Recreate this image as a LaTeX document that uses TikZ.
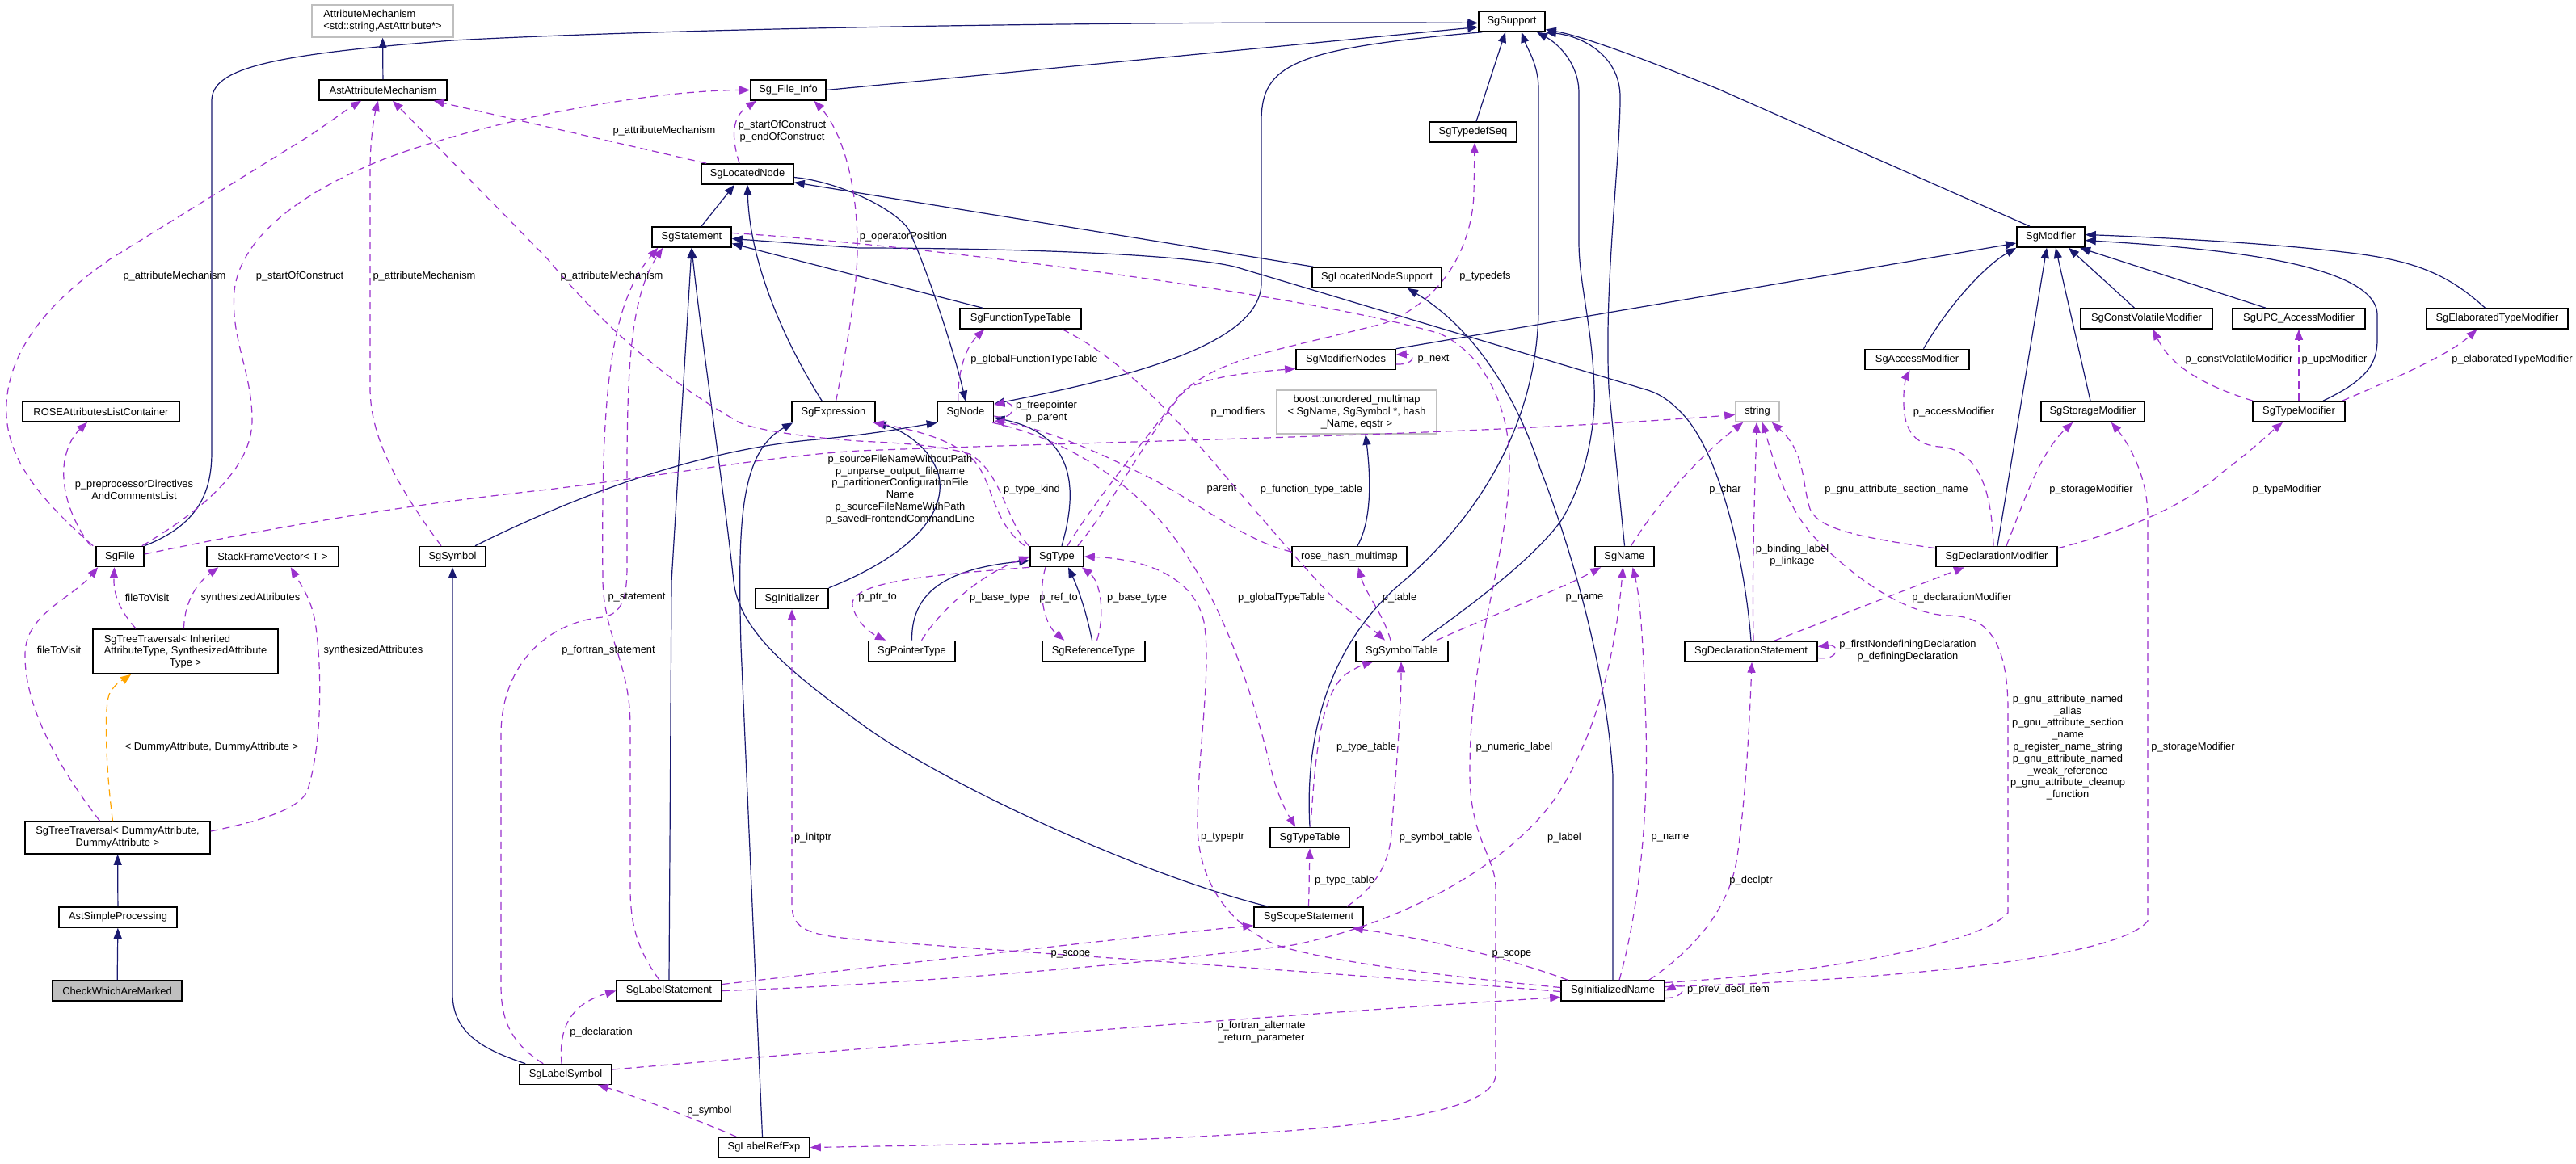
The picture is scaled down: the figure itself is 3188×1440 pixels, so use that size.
\documentclass[tikz,border=0pt]{standalone}
\usepackage{fontspec}
\setmainfont{Liberation Sans}
\usetikzlibrary{arrows.meta,calc}
\definecolor{inhc}{HTML}{191970}
\definecolor{usec}{HTML}{9A32CD}
\definecolor{tmplc}{HTML}{FFA500}
\definecolor{grayb}{HTML}{BFBFBF}
\begin{document}
\begin{tikzpicture}[x=0.5pt,y=-0.5pt,
  font=\fontsize{6.45}{7.4}\selectfont,
  cls/.style={draw=black,line width=0.8pt,fill=white,minimum height=12.5pt,inner sep=0pt,align=center,minimum width={#1*0.5pt}},
  gcls/.style={cls=#1,draw=grayb},
  lbl/.style={inner sep=0pt,align=center},
  inh/.style={draw=inhc,line width=0.6pt,-{Triangle[length=6.5pt,width=5pt]}},
  use/.style={draw=usec,line width=0.6pt,dash pattern=on 4.5pt off 3pt,-{Triangle[length=6.5pt,width=5pt]}},
  tmpl/.style={use,draw=tmplc}]
\fill[white] (0,0) rectangle (3188,1440);
\useasboundingbox (0,0) rectangle (3188,1440);
% ---------- nodes ----------
\node[gcls=175,minimum height=20pt,align=left] (attrmech) at (473.5,26) {AttributeMechanism\\<std::string,AstAttribute*>};
\node[cls=158] (astattr) at (474,111.5) {AstAttributeMechanism};
\node[cls=93] (fileinfo) at (975.5,111.5) {Sg\_File\_Info};
\node[cls=114] (located) at (925,215.5) {SgLocatedNode};
\node[cls=98] (statement) at (856,293.5) {SgStatement};
\node[cls=103] (expression) at (1031.5,510) {SgExpression};
\node[cls=194] (roseattr) at (125,509.5) {ROSEAttributesListContainer};
\node[cls=59] (sgfile) at (148.5,689) {SgFile};
\node[cls=163] (stackframe) at (337.5,689) {StackFrameVector< T >};
\node[cls=82] (symbol) at (560,689) {SgSymbol};
\node[cls=82] (support) at (1871,26.5) {SgSupport};
\node[cls=108] (typedefseq) at (1823,163.5) {SgTypedefSeq};
\node[cls=160] (lnsupport) at (1704,343.5) {SgLocatedNodeSupport};
\node[cls=150] (functt) at (1263,394.5) {SgFunctionTypeTable};
\node[cls=123] (modnodes) at (1665.5,445) {SgModifierNodes};
\node[cls=69] (sgnode) at (1195,510) {SgNode};
\node[gcls=198,minimum height=27pt] (boost) at (1679,510) {boost::unordered\_multimap\\< SgName, SgSymbol *, hash\\\_Name, eqstr >};
\node[cls=66] (sgtype) at (1308,689) {SgType};
\node[cls=142] (rosehash) at (1670,689) {rose\_hash\_multimap};
\node[cls=73] (sgname) at (2010.5,689) {SgName};
\node[cls=90] (initializer) at (980,741) {SgInitializer};
\node[cls=84] (modifier) at (2538,293.5) {SgModifier};
\node[cls=129] (accessmod) at (2372.5,445) {SgAccessModifier};
\node[cls=163] (cvmod) at (2656.5,394.5) {SgConstVolatileModifier};
\node[cls=164] (upcmod) at (2845,394.5) {SgUPC\_AccessModifier};
\node[cls=175] (elabmod) at (3090.5,394.5) {SgElaboratedTypeModifier};
\node[gcls=54] (string) at (2175,509.5) {string};
\node[cls=128] (storagemod) at (2590,509.5) {SgStorageModifier};
\node[cls=114] (typemod) at (2845,509.5) {SgTypeModifier};
\node[cls=150] (declmod) at (2471,689) {SgDeclarationModifier};
\node[cls=229,minimum height=27.5pt] (sgttinh) at (229.5,806.5) {\rlap{SgTreeTraversal< Inherited}\phantom{AttributeType, SynthesizedAttribute}\\AttributeType, SynthesizedAttribute\\Type >};
\node[cls=229,minimum height=20pt] (sgttdummy) at (145.5,1037) {SgTreeTraversal< DummyAttribute,\\DummyAttribute >};
\node[cls=146] (astsimple) at (146,1135.5) {AstSimpleProcessing};
\node[cls=160,fill=grayb] (checkwhich) at (145,1226.5) {CheckWhichAreMarked};
\node[cls=130] (labelstmt) at (828,1226.5) {SgLabelStatement};
\node[cls=114] (labelsym) at (700,1330) {SgLabelSymbol};
\node[cls=113] (labelref) at (945.5,1420.5) {SgLabelRefExp};
\node[cls=107] (ptrtype) at (1128.5,806) {SgPointerType};
\node[cls=127] (reftype) at (1353.5,806) {SgReferenceType};
\node[cls=114] (symtab) at (1735,806) {SgSymbolTable};
\node[cls=98] (typetable) at (1621,1037) {SgTypeTable};
\node[cls=135] (scopestmt) at (1619.5,1135.5) {SgScopeStatement};
\node[cls=128] (initname) at (1996,1226.5) {SgInitializedName};
\node[cls=164] (declstmt) at (2167,806.5) {SgDeclarationStatement};
% ---------- inheritance ----------
\draw[inh] (astattr) -- (attrmech);
\draw[inh] (sgfile.north east) .. controls (245,650) and (262,610) .. (262,560) -- (262,125) .. controls (262,85) and (330,68) .. (560,50) .. controls (900,32) and (1500,26) .. ($(support.west)+(0,2)$);
\draw[inh] (fileinfo.east) -- ($(support.west)+(0,7)$);
\draw[inh] ($(typedefseq.north)+(4,0)$) -- ($(support.south)+(-8,0)$);
\draw[inh] (typetable.north) .. controls (1614,900) and (1650,790) .. (1741,716) .. controls (1850,620) and (1904,500) .. (1904,380) -- (1904,110) .. controls (1904,80) and (1890,60) .. ($(support.south)+(12,0)$);
\draw[inh] ($(symtab.north)+(25,0)$) .. controls (1820,750) and (1900,690) .. (1933,643) .. controls (1965,590) and (1975,520) .. (1973,480) .. controls (1970,400) and (1954,350) .. (1954,300) -- (1954,115) .. controls (1954,80) and (1930,55) .. ($(support.south)+(31,0)$);
\draw[inh] (sgname.north) -- (1991,480) .. controls (1985,350) and (2005,200) .. (2005,120) .. controls (2005,70) and (1960,45) .. (support.south east);
\draw[inh] ($(modifier.north)+(-26,0)$) -- (2126,110) .. controls (2040,75) and (1960,45) .. ($(support.east)+(0,10)$);
\draw[inh] ($(support.south west)+(5,0)$) .. controls (1600,60) and (1561,80) .. (1561,150) -- (1561,350) .. controls (1561,430) and (1380,470) .. ($(sgnode.east)+(0,-10)$);
\draw[inh] ($(located.east)+(0,4)$) .. controls (1040,225) and (1110,260) .. (1125,285) .. controls (1150,340) and (1182,440) .. (sgnode.north);
\draw[inh] ($(symbol.north)+(28,0)$) .. controls (700,620) and (850,560) .. (1000,545) .. controls (1080,538) and (1130,528) .. (sgnode.south west);
\draw[inh] ($(sgtype.north)+(6,0)$) .. controls (1330,620) and (1340,540) .. ($(sgnode.east)+(0,7)$);
\draw[inh] ($(statement.north)+(12,0)$) -- ($(located.south)+(-16,0)$);
\draw[inh] ($(expression.north)+(-14,0)$) .. controls (975,430) and (928,330) .. (located.south);
\draw[inh] ($(lnsupport.north west)+(2,0)$) -- ($(located.south east)+(0,-3)$);
\draw[inh] ($(functt.north)+(-47,0)$) -- ($(statement.east)+(0,8)$);
\draw[inh] (declstmt.north) .. controls (2160,700) and (2130,560) .. (2080,510) .. controls (2062,492) and (2050,486) .. (2036,482) -- (1531,331) .. controls (1460,312) and (1200,307) .. (1063,307) -- ($(statement.east)+(0,2)$);
\draw[inh] ($(scopestmt.north west)+(18,0)$) .. controls (1400,1080) and (1150,960) .. (1063,894) .. controls (975,830) and (915,780) .. (908,720) .. controls (895,600) and (868,420) .. (statement.south);
\draw[inh] (labelstmt.north) -- (831,720) -- (statement.south);
\draw[inh] (initializer.north east) .. controls (1120,690) and (1172,640) .. (1162,590) .. controls (1152,550) and (1110,530) .. (expression.south east);
\draw[inh] ($(labelref.north)+(-2,0)$) -- (917,800) .. controls (913,650) and (915,560) .. ($(expression.south west)+(2,0)$);
\draw[inh] (initname.north) -- (1996,960) .. controls (1990,860) and (1960,720) .. (1906,580) .. controls (1880,500) and (1830,410) .. ($(lnsupport.south east)+(-43,0)$);
\draw[inh] (modnodes.north east) -- (modifier.190);
\draw[inh] ($(accessmod.north)+(8,0)$) .. controls (2410,380) and (2455,330) .. (modifier.south west);
\draw[inh] ($(cvmod.north)+(-15,0)$) -- ($(modifier.south)+(22,0)$);
\draw[inh] ($(upcmod.north)+(-41,0)$) -- ($(modifier.south)+(36,0)$);
\draw[inh] ($(elabmod.north)+(-15,0)$) .. controls (3030,340) and (2990,322) .. (2900,312) .. controls (2800,300) and (2650,293) .. ($(modifier.east)+(0,-3)$);
\draw[inh] ($(storagemod.north)+(-3,0)$) -- ($(modifier.south)+(6,0)$);
\draw[inh] ($(typemod.north)+(30,0)$) .. controls (2930,470) and (2942,450) .. (2942,420) -- (2942,390) .. controls (2942,320) and (2700,305) .. ($(modifier.east)+(0,4)$);
\draw[inh] ($(declmod.north)+(1,0)$) -- ($(modifier.south)+(-5,0)$);
\draw[inh] (ptrtype.north) .. controls (1128,740) and (1160,705) .. ($(sgtype.west)+(0,5)$);
\draw[inh] ($(reftype.north)+(-2,0)$) .. controls (1345,760) and (1335,730) .. ($(sgtype.south)+(14,0)$);
\draw[inh] ($(labelsym.north west)+(8,0)$) .. controls (600,1300) and (560,1280) .. (560,1230) -- (symbol.south);
\draw[inh] ($(rosehash.north)+(10,0)$) .. controls (1700,640) and (1695,580) .. ($(boost.south)+(11,0)$);
\draw[inh] (astsimple) -- (sgttdummy);
\draw[inh] (checkwhich) -- (astsimple);
% ---------- usage ----------
\draw[use] ($(sgfile.north west)+(-3,0)$) .. controls (40,610) and (5,560) .. (8,500) .. controls (12,420) and (80,360) .. (136,321) -- (380,170) .. controls (410,150) and (430,135) .. ($(astattr.south)+(-27,0)$);
\draw[use] ($(sgfile.north east)+(-3,0)$) .. controls (270,620) and (312,570) .. (312,520) .. controls (312,460) and (285,420) .. (290,360) .. controls (298,290) and (380,235) .. (475,197) .. controls (600,150) and (800,112) .. (fileinfo.west);
\draw[use] ($(symbol.north)+(-14,0)$) .. controls (490,600) and (458,540) .. (458,480) -- (458,210) .. controls (458,170) and (464,140) .. ($(astattr.south)+(-6,0)$);
\draw[use] ($(sgtype.north west)+(-1,0)$) .. controls (1245,645) and (1240,585) .. (1200,562) .. controls (1160,550) and (1100,548) .. (1063,546) .. controls (980,540) and (930,530) .. (915,523) .. controls (840,480) and (760,420) .. (678,321) -- ($(astattr.south)+(12,0)$);
\draw[use] ($(located.north west)+(7,0)$) -- ($(astattr.south east)+(-17,0)$);
\draw[use] ($(located.north)+(-10,0)$) .. controls (905,170) and (905,145) .. ($(fileinfo.south west)+(8,0)$);
\draw[use] ($(expression.north)+(3,0)$) .. controls (1050,420) and (1062,350) .. (1061,300) .. controls (1060,220) and (1040,160) .. ($(fileinfo.south)+(32,0)$);
\draw[use] ($(sgnode.north west)+(26,0)$) .. controls (1185,460) and (1195,430) .. ($(functt.south west)+(31,0)$);
\draw[use] ($(sgnode.east)+(0,5)$) .. controls (1258,522) and (1258,496) .. ($(sgnode.east)+(0,-9)$);
\draw[use] ($(sgfile.east)+(0,-3)$) .. controls (400,640) and (550,620) .. (678,606) .. controls (850,585) and (950,565) .. (1063,558) .. controls (1400,545) and (1800,540) .. ($(string.west)+(0,4)$);
\draw[use] ($(sgfile.north west)+(-6,0)$) .. controls (85,640) and (75,600) .. (80,570) .. controls (85,545) and (95,535) .. ($(roseattr.south)+(-17,0)$);
\draw[use] ($(functt.south east)+(-24,0)$) .. controls (1380,440) and (1440,500) .. (1500,570) .. controls (1560,640) and (1620,710) .. (1650,740) .. controls (1680,765) and (1700,780) .. ($(symtab.north)+(-21,0)$);
\draw[use] ($(symtab.north)+(-14,0)$) .. controls (1712,760) and (1690,735) .. ($(rosehash.south)+(11,0)$);
\draw[use] ($(rosehash.west)+(0,-6)$) .. controls (1540,670) and (1480,620) .. (1420,590) .. controls (1350,555) and (1290,530) .. ($(sgnode.east)+(0,11)$);
\draw[use] ($(sgnode.south east)+(-2,0)$) .. controls (1330,545) and (1420,610) .. (1470,690) .. controls (1530,780) and (1560,900) .. (1575,960) .. controls (1585,995) and (1595,1010) .. ($(typetable.north west)+(32,0)$);
\draw[use] ($(sgtype.north)+(13,0)$) .. controls (1355,620) and (1420,540) .. (1463,485) .. controls (1490,465) and (1560,460) .. ($(modnodes.south west)+(0,-2)$);
\draw[use] ($(modnodes.east)+(0,6)$) .. controls (1752,452) and (1752,438) .. ($(modnodes.east)+(0,-6)$);
\draw[use] ($(sgtype.north east)+(-8,0)$) .. controls (1380,620) and (1430,520) .. (1470,480) .. controls (1520,440) and (1600,430) .. (1714,400) .. controls (1790,370) and (1822,300) .. (1824,240) -- ($(typedefseq.south)+(2,0)$);
\draw[use] ($(sgtype.north west)+(-6,0)$) .. controls (1225,645) and (1230,590) .. (1200,565) .. controls (1170,540) and (1120,530) .. ($(expression.south east)+(-3,0)$);
\draw[use] (sgtype.south west) .. controls (1150,712) and (1050,720) .. (1055,750) .. controls (1060,772) and (1080,785) .. ($(ptrtype.north west)+(22,0)$);
\draw[use] ($(ptrtype.north)+(12,0)$) .. controls (1160,760) and (1210,712) .. (sgtype.west);
\draw[use] ($(sgtype.south)+(-14,0)$) .. controls (1285,730) and (1290,770) .. ($(reftype.north west)+(28,0)$);
\draw[use] ($(reftype.north)+(4,0)$) .. controls (1368,760) and (1362,720) .. ($(sgtype.south east)+(-3,0)$);
\draw[use] ($(typetable.north)+(1,0)$) .. controls (1628,930) and (1635,860) .. (1665,835) .. controls (1680,825) and (1690,822) .. ($(symtab.south west)+(22,0)$);
\draw[use] (scopestmt.north) -- (typetable.south);
\draw[use] ($(scopestmt.north east)+(-21,0)$) .. controls (1700,1100) and (1720,1070) .. (1722,1030) .. controls (1728,950) and (1734,880) .. ($(symtab.south)+(-1,0)$);
\draw[use] ($(symtab.north east)+(-15,0)$) .. controls (1850,760) and (1930,730) .. ($(sgname.south west)+(8,0)$);
\draw[use] ($(sgname.north)+(8,0)$) .. controls (2060,610) and (2110,560) .. ($(string.south west)+(10,0)$);
\draw[use] ($(declstmt.north)+(3,0)$) .. controls (2168,700) and (2172,600) .. ($(string.south)+(-1,0)$);
\draw[use] ($(declmod.north west)+(0,3)$) .. controls (2300,665) and (2250,655) .. (2240,630) .. controls (2230,600) and (2235,560) .. ($(string.south east)+(-10,0)$);
\draw[use] ($(initname.east)+(0,-10)$) .. controls (2250,1205) and (2450,1170) .. (2485,1130) -- (2485,880) .. controls (2485,780) and (2450,762) .. (2410,762) .. controls (2360,760) and (2300,720) .. (2250,670) .. controls (2210,630) and (2195,570) .. ($(string.south)+(6,0)$);
\draw[use] ($(declmod.north)+(-4,0)$) .. controls (2465,610) and (2450,556) .. (2400,553) .. controls (2360,550) and (2355,520) .. (2356,490) .. controls (2356,475) and (2360,465) .. ($(accessmod.south)+(-9,0)$);
\draw[use] ($(declmod.north)+(12,0)$) .. controls (2505,620) and (2525,560) .. ($(storagemod.south west)+(40,0)$);
\draw[use] ($(declmod.north east)+(0,3)$) .. controls (2620,660) and (2700,630) .. (2750,585) .. controls (2790,555) and (2810,535) .. ($(typemod.south)+(-20,0)$);
\draw[use] ($(initname.east)+(0,-5)$) .. controls (2300,1215) and (2620,1190) .. (2658,1140) -- (2658,640) .. controls (2658,590) and (2635,550) .. ($(storagemod.south east)+(-42,0)$);
\draw[use] ($(typemod.north west)+(1,0)$) .. controls (2720,475) and (2685,450) .. ($(cvmod.south)+(8,0)$);
\draw[use] (typemod.north) -- (upcmod.south);
\draw[use] ($(typemod.north east)+(-4,0)$) .. controls (2960,470) and (3030,440) .. ($(elabmod.south)+(-25,0)$);
\draw[use] ($(declstmt.north)+(29,0)$) -- ($(declmod.south)+(-40,0)$);
\draw[use] ($(declstmt.east)+(0,8)$) .. controls (2277,818) and (2277,797) .. ($(declstmt.east)+(0,-6)$);
\draw[use] ($(initname.north east)+(-20,0)$) .. controls (2090,1180) and (2140,1130) .. (2150,1060) .. controls (2160,990) and (2165,900) .. ($(declstmt.south)+(1,0)$);
\draw[use] ($(initname.north)+(8,0)$) .. controls (2030,1120) and (2040,1000) .. (2037,900) .. controls (2034,800) and (2030,740) .. ($(sgname.south)+(10,0)$);
\draw[use] ($(initname.west)+(0,-4)$) .. controls (1800,1210) and (1640,1190) .. (1580,1170) .. controls (1520,1145) and (1482,1090) .. (1482,1020) .. controls (1482,930) and (1500,830) .. (1490,770) .. controls (1478,715) and (1420,692) .. (sgtype.east);
\draw[use] ($(initname.north west)+(9,0)$) .. controls (1850,1180) and (1750,1160) .. ($(scopestmt.south east)+(-14,0)$);
\draw[use] ($(labelstmt.east)+(0,-8)$) .. controls (1100,1195) and (1400,1160) .. ($(scopestmt.south west)+(0,-3)$);
\draw[use] ($(initname.west)+(0,1)$) .. controls (1600,1200) and (1200,1175) .. (1063,1163) .. controls (1000,1158) and (980,1150) .. (980,1120) -- (initializer.south);
\draw[use] (labelstmt.east) .. controls (1100,1220) and (1400,1195) .. (1600,1170) .. controls (1750,1140) and (1880,1060) .. (1930,980) .. controls (1980,900) and (2000,800) .. ($(sgname.south)+(-2,0)$);
\draw[use] ($(labelsym.east)+(0,-6)$) .. controls (1100,1295) and (1600,1255) .. ($(initname.west)+(0,8)$);
\draw[use] ($(labelsym.north)+(-5,0)$) .. controls (692,1280) and (700,1245) .. (labelstmt.west);
\draw[use] ($(labelstmt.north)+(-12,0)$) .. controls (792,1180) and (780,1150) .. (780,1100) -- (780,900) .. controls (780,820) and (748,790) .. (746,720) .. controls (744,500) and (752,380) .. ($(statement.south west)+(8,0)$);
\draw[use] ($(labelsym.north west)+(30,0)$) .. controls (630,1290) and (620,1260) .. (620,1220) -- (620,910) .. controls (620,820) and (680,770) .. (746,764) .. controls (770,760) and (776,740) .. (776,700) .. controls (776,500) and (772,380) .. ($(statement.south west)+(14,0)$);
\draw[use] ($(labelref.north west)+(23,0)$) .. controls (860,1385) and (780,1355) .. ($(labelsym.south east)+(-18,0)$);
\draw[use] ($(statement.east)+(0,-5)$) .. controls (1100,300) and (1600,360) .. (1782,413) .. controls (1840,440) and (1870,510) .. (1868,580) .. controls (1865,700) and (1818,800) .. (1819,960) .. controls (1820,1040) and (1851,1060) .. (1851,1100) -- (1851,1330) .. controls (1851,1400) and (1500,1412) .. (labelref.east);
\draw[use] ($(sgttdummy.north)+(-22,0)$) .. controls (80,960) and (30,880) .. (31,810) .. controls (31,760) and (90,740) .. ($(sgfile.south west)+(3,0)$);
\draw[use] ($(sgttinh.north west)+(54,0)$) .. controls (152,760) and (140,740) .. ($(sgfile.south)+(-7,0)$);
\draw[use] ($(sgttinh.north)+(-2,0)$) .. controls (228,750) and (240,725) .. ($(stackframe.south west)+(15,0)$);
\draw[use] ($(sgttdummy.east)+(0,-8)$) .. controls (330,1015) and (370,1000) .. (380,980) .. controls (400,920) and (398,820) .. (390,770) .. controls (385,740) and (370,720) .. ($(stackframe.south east)+(-60,0)$);
\draw[tmpl] ($(sgttdummy.north)+(-6,0)$) .. controls (132,960) and (128,880) .. (135,860) .. controls (142,845) and (155,840) .. ($(sgttinh.south west)+(48,0)$);
\draw[use] ($(initname.east)+(0,9)$) .. controls (2088,1236) and (2088,1214) .. ($(initname.east)+(0,0)$);
% ---------- labels ----------
\node[lbl] (l1) at (216,342) {p\_attributeMechanism};
\node[lbl] (l2) at (371,342) {p\_startOfConstruct};
\node[lbl] (l3) at (525,342) {p\_attributeMechanism};
\node[lbl] (l4) at (757,342) {p\_attributeMechanism};
\node[lbl] (l5) at (822,162) {p\_attributeMechanism};
\node[lbl] (l6) at (968,163) {p\_startOfConstruct\\p\_endOfConstruct};
\node[lbl] (l7) at (166,606) {p\_preprocessorDirectives\\AndCommentsList};
\node[lbl] (l8) at (1118,293) {p\_operatorPosition};
\node[lbl] (l9) at (1838,342) {p\_typedefs};
\node[lbl] (l10) at (1280,445) {p\_globalFunctionTypeTable};
\node[lbl] (l11) at (1774,445) {p\_next};
\node[lbl] (l12) at (1295,510) {p\_freepointer\\p\_parent};
\node[lbl] (l13) at (1532,510) {p\_modifiers};
\node[lbl] (l14) at (1114,606) {p\_sourceFileNameWithoutPath\\p\_unparse\_output\_filename\\p\_partitionerConfigurationFile\\Name\\p\_sourceFileNameWithPath\\p\_savedFrontendCommandLine};
\node[lbl] (l15) at (1277,606) {p\_type\_kind};
\node[lbl] (l16) at (1512,606) {parent};
\node[lbl] (l17) at (1623,606) {p\_function\_type\_table};
\node[lbl] (l18) at (2771,445) {p\_constVolatileModifier};
\node[lbl] (l19) at (2889,445) {p\_upcModifier};
\node[lbl] (l20) at (3109,445) {p\_elaboratedTypeModifier};
\node[lbl] (l21) at (2418,510) {p\_accessModifier};
\node[lbl] (l22) at (2135,606) {p\_char};
\node[lbl] (l23) at (2347,606) {p\_gnu\_attribute\_section\_name};
\node[lbl] (l24) at (2588,606) {p\_storageModifier};
\node[lbl] (l25) at (2830,606) {p\_typeModifier};
\node[lbl] (l26) at (2218,688) {p\_binding\_label\\p\_linkage};
\node[lbl] (l27) at (182,740) {fileToVisit};
\node[lbl] (l28) at (310,740) {synthesizedAttributes};
\node[lbl] (l29) at (73,805) {fileToVisit};
\node[lbl] (l30) at (462,805) {synthesizedAttributes};
\node[lbl] (l31) at (262,925) {< DummyAttribute, DummyAttribute >};
\node[lbl] (l32) at (788,740) {p\_statement};
\node[lbl] (l33) at (753,805) {p\_fortran\_statement};
\node[lbl] (l34) at (1006,1037) {p\_initptr};
\node[lbl] (l35) at (744,1278) {p\_declaration};
\node[lbl] (l36) at (878,1375) {p\_symbol};
\node[lbl] (l37) at (1086,740) {p\_ptr\_to};
\node[lbl] (l38) at (1237,740) {p\_base\_type};
\node[lbl] (l39) at (1310,740) {p\_ref\_to};
\node[lbl] (l40) at (1407,740) {p\_base\_type};
\node[lbl] (l41) at (1586,740) {p\_globalTypeTable};
\node[lbl] (l42) at (1732,740) {p\_table};
\node[lbl] (l43) at (1961,740) {p\_name};
\node[lbl] (l44) at (1691,925) {p\_type\_table};
\node[lbl] (l45) at (1874,925) {p\_numeric\_label};
\node[lbl] (l46) at (1513,1037) {p\_typeptr};
\node[lbl] (l47) at (1777,1037) {p\_symbol\_table};
\node[lbl] (l48) at (1936,1037) {p\_label};
\node[lbl] (l49) at (2067,1037) {p\_name};
\node[lbl] (l50) at (1664,1090) {p\_type\_table};
\node[lbl] (l51) at (1325,1181) {p\_scope};
\node[lbl] (l52) at (1871,1181) {p\_scope};
\node[lbl] (l53) at (2139,1225) {p\_prev\_decl\_item};
\node[lbl] (l54) at (1561,1278) {p\_fortran\_alternate\\\_return\_parameter};
\node[lbl] (l55) at (2428,740) {p\_declarationModifier};
\node[lbl] (l56) at (2361,806) {p\_firstNondefiningDeclaration\\p\_definingDeclaration};
\node[lbl] (l57) at (2559,925) {p\_gnu\_attribute\_named\\\_alias\\p\_gnu\_attribute\_section\\\_name\\p\_register\_name\_string\\p\_gnu\_attribute\_named\\\_weak\_reference\\p\_gnu\_attribute\_cleanup\\\_function};
\node[lbl] (l58) at (2714,925) {p\_storageModifier};
\node[lbl] (l59) at (2167,1090) {p\_declptr};
\end{tikzpicture}
\end{document}
